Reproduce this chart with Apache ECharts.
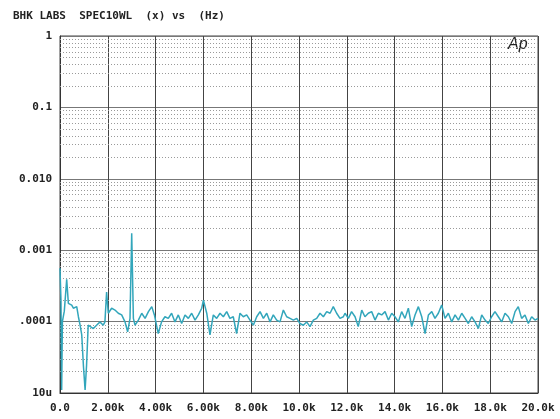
<!DOCTYPE html>
<html>
<head>
<meta charset="utf-8">
<script src="https://cdn.jsdelivr.net/npm/echarts@6/dist/echarts.min.js"></script>
<style>
  html, body { margin: 0; padding: 0; background: #fff; }
  #main { width: 560px; height: 419px; }
</style>
</head>
<body>
<div id="main"></div>
<script>
// spectrum: frequency (Hz) and level (ratio)
var freqHz = [
  0, 40, 70, 100, 180, 280, 350, 490, 560, 700, 770, 840, 910, 980, 1050, 1110, 1180, 1255, 1395, 1530,
  1675, 1810, 1880, 1950, 2020, 2160, 2300, 2440, 2580, 2720, 2830, 2930, 3000, 3070, 3140, 3280, 3420, 3560, 3700, 3840,
  3950, 4110, 4250, 4390, 4530, 4670, 4810, 4950, 5090, 5230, 5370, 5510, 5650, 5790, 5930, 6000, 6140, 6275, 6415, 6555,
  6695, 6835, 6975, 7110, 7250, 7390, 7530, 7670, 7810, 7950, 8090, 8230, 8370, 8510, 8650, 8790, 8925, 9065, 9205, 9345,
  9485, 9625, 9765, 9905, 10040, 10180, 10320, 10460, 10600, 10740, 10880, 11020, 11160, 11300, 11435, 11575, 11715, 11855, 11925, 12065,
  12200, 12345, 12480, 12625, 12760, 12900, 13040, 13180, 13320, 13460, 13600, 13740, 13880, 14015, 14155, 14295, 14435, 14575, 14715, 14855,
  14995, 15135, 15275, 15415, 15555, 15690, 15830, 15970, 16110, 16250, 16390, 16530, 16670, 16810, 16950, 17085, 17225, 17365, 17505, 17645,
  17785, 17920, 18060, 18200, 18340, 18480, 18620, 18760, 18900, 19040, 19175, 19315, 19455, 19595, 19735, 19875, 20000
]
var level = [
  5.6e-4, 2.0e-4, 1.1e-5, 1.0e-4, 1.4e-4, 3.9e-4, 1.8e-4, 1.7e-4, 1.54e-4, 1.62e-4, 1.17e-4, 8.9e-5, 6.5e-5, 2.4e-5, 1.1e-5, 2.4e-5, 8.9e-5, 8.5e-5, 8.0e-5, 8.9e-5,
  9.9e-5, 8.9e-5, 9.9e-5, 2.6e-4, 1.31e-4, 1.54e-4, 1.45e-4, 1.31e-4, 1.24e-4, 9.9e-5, 7.2e-5, 1.11e-4, 1.73e-3, 1.11e-4, 8.9e-5, 1.05e-4, 1.31e-4, 1.11e-4, 1.38e-4, 1.62e-4,
  1.24e-4, 6.8e-5, 9.9e-5, 1.17e-4, 1.11e-4, 1.31e-4, 9.9e-5, 1.24e-4, 9.4e-5, 1.24e-4, 1.11e-4, 1.31e-4, 1.05e-4, 1.24e-4, 1.54e-4, 2.0e-4, 1.31e-4, 6.5e-5, 1.24e-4, 1.11e-4,
  1.31e-4, 1.17e-4, 1.38e-4, 1.11e-4, 1.17e-4, 6.8e-5, 1.31e-4, 1.17e-4, 1.24e-4, 1.05e-4, 8.9e-5, 1.17e-4, 1.38e-4, 1.11e-4, 1.31e-4, 9.9e-5, 1.24e-4, 1.05e-4, 9.9e-5, 1.45e-4,
  1.17e-4, 1.11e-4, 1.05e-4, 1.11e-4, 9.4e-5, 8.9e-5, 9.9e-5, 8.5e-5, 1.05e-4, 1.11e-4, 1.31e-4, 1.17e-4, 1.38e-4, 1.31e-4, 1.62e-4, 1.31e-4, 1.11e-4, 1.17e-4, 1.31e-4, 1.11e-4,
  1.38e-4, 1.17e-4, 8.5e-5, 1.45e-4, 1.17e-4, 1.31e-4, 1.38e-4, 1.05e-4, 1.31e-4, 1.24e-4, 1.38e-4, 1.05e-4, 1.31e-4, 1.17e-4, 9.9e-5, 1.38e-4, 1.11e-4, 1.54e-4, 8.5e-5, 1.24e-4,
  1.62e-4, 1.17e-4, 6.8e-5, 1.24e-4, 1.38e-4, 1.11e-4, 1.31e-4, 1.71e-4, 1.11e-4, 1.31e-4, 9.9e-5, 1.24e-4, 1.05e-4, 1.31e-4, 1.11e-4, 9.4e-5, 1.17e-4, 9.9e-5, 8.0e-5, 1.24e-4,
  1.05e-4, 9.4e-5, 1.17e-4, 1.38e-4, 1.17e-4, 9.9e-5, 1.31e-4, 1.17e-4, 9.4e-5, 1.38e-4, 1.62e-4, 1.11e-4, 1.24e-4, 9.4e-5, 1.17e-4, 1.05e-4, 1.11e-4
]
var xTickLabels = ['0.0', '2.00k', '4.00k', '6.00k', '8.00k', '10.0k', '12.0k', '14.0k', '16.0k', '18.0k', '20.0k']
var yTickLabels = ['10u', '.0001', '0.001', '0.010', '0.1', '1'] // 1e-5 .. 1

// dotted grid lines at 2..9 inside every decade
var minorLevels = []
for (var d = -5; d < 0; d++) {
  for (var k = 2; k <= 9; k++) minorLevels.push(k * Math.pow(10, d))
}

var labelFont = { color: '#222', fontFamily: 'DejaVu Sans Mono', fontWeight: 'bold', fontSize: 11 }

var myChart = echarts.init(document.getElementById('main'))
var option = {
  backgroundColor: '#fff',
  animation: false,
  title: {
    text: 'BHK LABS  SPEC10WL  (x) vs  (Hz)',
    left: 8, top: 6,
    textStyle: labelFont
  },
  graphic: [{
    type: 'text', left: 508, top: 37,
    style: { text: 'Ap', fill: '#222', font: 'italic 16px "Liberation Sans"' }
  }],
  grid: { left: 60, right: 22, top: 36, bottom: 26, show: true, borderColor: '#444', borderWidth: 1 },
  xAxis: {
    type: 'value', min: 0, max: 20000, interval: 2000,
    axisLine: { lineStyle: { color: '#333' } },
    axisTick: { show: false },
    axisLabel: Object.assign({ margin: 10, formatter: function (v) { return xTickLabels[Math.round(v / 2000)] } }, labelFont),
    splitLine: { lineStyle: { color: '#444', width: 1 } }
  },
  yAxis: {
    type: 'log', logBase: 10, min: 1e-5, max: 1, interval: 1,
    axisLine: { show: true, lineStyle: { color: '#333' } },
    axisTick: { show: false },
    axisLabel: Object.assign({ margin: 8, formatter: function (v) { return yTickLabels[Math.round(Math.log10(v)) + 5] } }, labelFont),
    splitLine: { lineStyle: { color: '#777', width: 1 } }
  },
  series: [{
    type: 'lines', coordinateSystem: 'cartesian2d', silent: true, z: 1,
    polyline: false,
    lineStyle: { color: '#9a9a9a', type: [1, 2], width: 1, opacity: 1 },
    data: minorLevels.map(function (v) { return { coords: [[0, v], [20000, v]] } })
  }, {
    type: 'line', z: 3,
    data: freqHz.map(function (f, i) { return [f, level[i]] }),
    showSymbol: false,
    lineStyle: { color: '#32a6bb', width: 1.5 }
  }]
}
myChart.setOption(option)
</script>
</body>
</html>
